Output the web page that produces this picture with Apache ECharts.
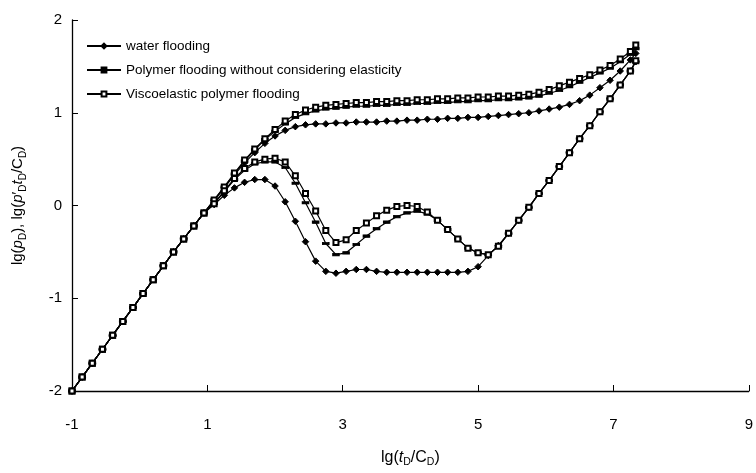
<!DOCTYPE html>
<html>
<head>
<meta charset="utf-8">
<script src="https://cdn.jsdelivr.net/npm/echarts@6/dist/echarts.min.js"></script>
<style>html,body{margin:0;padding:0;background:#fff;}#c{width:756px;height:473px;}</style>
</head>
<body>
<div id="c"></div>
<script>
// lg(tD/CD) sample positions
var lgT = [-1.0,-0.85,-0.7,-0.55,-0.4,-0.25,-0.1,0.05,0.2,0.35,0.5,0.65,0.8,0.95,
  1.1,1.25,1.4,1.55,1.7,1.85,2.0,2.15,2.3,2.45,2.6,2.75,2.9,3.05,3.2,3.35,3.5,3.65,3.8,3.95,
  4.1,4.25,4.4,4.55,4.7,4.85,5.0,5.15,5.3,5.45,5.6,5.75,5.9,6.05,6.2,6.35,6.5,6.65,6.8,6.95,
  7.1,7.25,7.33];
// early-time (wellbore storage) part, common to all curves
var earlyPart = [-2.0,-1.85,-1.70,-1.55,-1.40,-1.25,-1.10,-0.95,-0.80,-0.65,-0.50,-0.36,-0.22,-0.08];
// pressure curves lg(pD)
var waterP = [0.05,0.19,0.33,0.46,0.57,0.67,0.75,0.81,0.85,0.87,
  0.88,0.88,0.89,0.89,0.90,0.90,0.90,0.91,0.91,0.92,
  0.92,0.93,0.93,0.94,0.94,0.95,0.95,0.96,0.97,0.98,
  0.99,1.00,1.02,1.04,1.06,1.09,1.13,1.19,1.27,1.35,
  1.45,1.57,1.64];
var polyP = [0.06,0.20,0.34,0.48,0.60,0.71,0.80,0.88,0.95,0.99,
  1.02,1.04,1.05,1.06,1.07,1.07,1.08,1.08,1.09,1.09,
  1.10,1.10,1.11,1.11,1.12,1.12,1.13,1.13,1.14,1.14,
  1.15,1.16,1.18,1.21,1.24,1.28,1.33,1.38,1.43,1.48,
  1.55,1.63,1.69];
var viscoP = [0.06,0.20,0.35,0.49,0.61,0.72,0.82,0.91,0.98,1.03,
  1.06,1.08,1.09,1.10,1.11,1.11,1.12,1.12,1.13,1.13,
  1.14,1.14,1.15,1.15,1.16,1.16,1.17,1.17,1.18,1.18,
  1.19,1.20,1.22,1.25,1.29,1.33,1.37,1.41,1.46,1.51,
  1.58,1.66,1.73];
// derivative curves lg(p'D tD/CD)
var waterD = [0.01,0.11,0.19,0.25,0.28,0.28,0.21,0.04,-0.17,-0.39,
  -0.60,-0.71,-0.73,-0.71,-0.69,-0.69,-0.71,-0.72,-0.72,-0.72,
  -0.72,-0.72,-0.72,-0.72,-0.72,-0.71,-0.66,-0.54,-0.43,-0.30,
  -0.16,-0.02,0.13,0.27,0.42,0.57,0.72,0.86,1.01,1.15,
  1.30,1.45,1.55];
var polyD = [0.02,0.15,0.28,0.38,0.45,0.47,0.47,0.41,0.24,0.03,
  -0.18,-0.41,-0.53,-0.51,-0.42,-0.33,-0.25,-0.18,-0.12,-0.08,
  -0.06,-0.09,-0.16,-0.26,-0.36,-0.46,-0.51,-0.53,-0.44,-0.30,
  -0.16,-0.02,0.13,0.27,0.42,0.57,0.72,0.86,1.01,1.15,
  1.30,1.45,1.55];
var viscoD = [0.02,0.16,0.29,0.40,0.47,0.50,0.51,0.47,0.32,0.13,
  -0.06,-0.27,-0.40,-0.37,-0.27,-0.19,-0.11,-0.05,-0.01,0.00,
  -0.01,-0.07,-0.16,-0.26,-0.36,-0.46,-0.51,-0.53,-0.44,-0.30,
  -0.16,-0.02,0.13,0.27,0.42,0.57,0.72,0.86,1.01,1.15,
  1.30,1.45,1.56];
var xTicks = [-1,1,3,5,7,9];
var names = ['water flooding','Polymer flooding without considering elasticity','Viscoelastic polymer flooding'];

function pts(late){
  var ys = earlyPart.concat(late);
  return lgT.map(function(x,i){return [x, ys[i]];});
}
var FONT = '"Liberation Sans", Arial, sans-serif';
var symbols = [
  {symbol:'diamond', symbolSize:6.5},
  {symbol:'rect', symbolSize:[6,2.5]},
  {symbol:'emptyRect', symbolSize:5}
];
function mk(name, idx, data){
  return {
    type:'line', name:name, data:pts(data),
    symbol:symbols[idx].symbol, symbolSize:symbols[idx].symbolSize,
    showAllSymbol:true, smooth:false,
    lineStyle:{color:'#000', width:1.2},
    itemStyle:{color:'#000', borderColor:'#000', borderWidth:1},
    z: 2+idx
  };
}
var chart = echarts.init(document.getElementById('c'), null, {renderer:'canvas'});
chart.setOption({
  animation:false,
  backgroundColor:'#fff',
  textStyle:{fontFamily:FONT},
  grid:{left:72, right:5, top:20, bottom:70, containLabel:false},
  legend:{
    data:names, orient:'vertical', left:81, top:34,
    itemWidth:34, itemHeight:6, itemGap:10,
    textStyle:{fontFamily:FONT, fontSize:13.5, color:'#000'}
  },
  xAxis:{
    type:'value', min:-1, max:9,
    axisLine:{onZero:false, lineStyle:{color:'#000', width:1.3}},
    axisTick:{inside:true, length:6, lineStyle:{color:'#000'}, customValues:xTicks},
    axisLabel:{customValues:xTicks, color:'#000', fontSize:15, margin:26, fontFamily:FONT},
    splitLine:{show:false},
    name:'{n|lg(}{i|t}{s|D}{n|/C}{s|D}{n|)}',
    nameLocation:'middle', nameGap:57,
    nameTextStyle:{rich:{
      n:{fontSize:16, color:'#000', fontFamily:FONT, lineHeight:20},
      i:{fontSize:16, color:'#000', fontFamily:FONT, fontStyle:'italic', lineHeight:20},
      s:{fontSize:10.5, color:'#000', fontFamily:FONT, lineHeight:12, verticalAlign:'bottom'}
    }}
  },
  yAxis:{
    type:'value', min:-2, max:2, interval:1,
    axisLine:{show:true, onZero:false, lineStyle:{color:'#000', width:1.3}},
    axisTick:{show:true, inside:true, length:6, lineStyle:{color:'#000'}},
    axisLabel:{color:'#000', fontSize:15, margin:10, fontFamily:FONT},
    splitLine:{show:false},
    name:'{n|lg(}{i|p}{s|D}{n|), lg(}{i|p}{n|\u2032}{s|D}{i|t}{s|D}{n|/C}{s|D}{n|)}',
    nameLocation:'middle', nameGap:44, nameRotate:90,
    nameTextStyle:{rich:{
      n:{fontSize:15, color:'#000', fontFamily:FONT, lineHeight:20},
      i:{fontSize:15, color:'#000', fontFamily:FONT, fontStyle:'italic', lineHeight:20},
      s:{fontSize:10, color:'#000', fontFamily:FONT, lineHeight:12, verticalAlign:'bottom'}
    }}
  },
  series:[
    mk(names[0],0,waterP), mk(names[0],0,waterD),
    mk(names[1],1,polyP), mk(names[1],1,polyD),
    mk(names[2],2,viscoP), mk(names[2],2,viscoD)
  ]
});
</script>
</body>
</html>
